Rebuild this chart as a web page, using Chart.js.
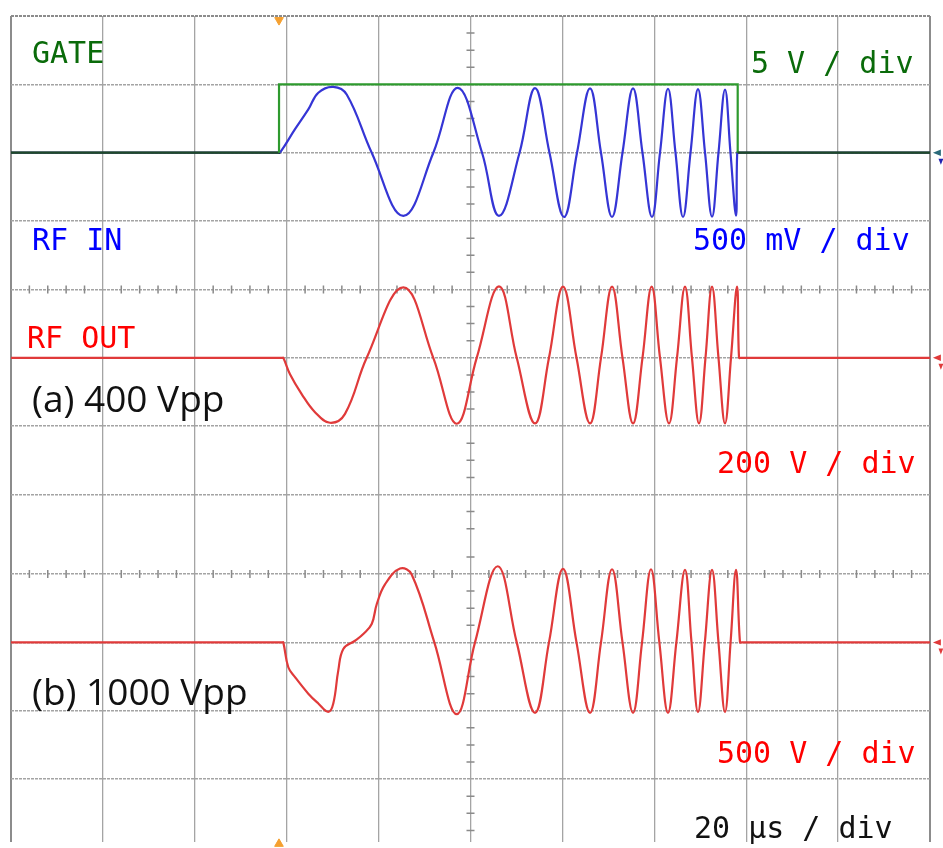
<!DOCTYPE html>
<html>
<head>
<meta charset="utf-8">
<script src="https://cdn.jsdelivr.net/npm/chart.js@4.4.0/dist/chart.umd.min.js"></script>
<style>
  html, body { margin: 0; padding: 0; background: #fff; }
</style>
</head>
<body>
<canvas id="scopeChart" width="943" height="848"></canvas>
<script>
// Time axis in µs (20 µs / div, 10 divisions)
const timeTicks = [0, 20, 40, 60, 80, 100, 120, 140, 160, 180, 200];
// Horizontal grid lines in screen divisions from the top (lower capture is stitched with an offset)
const gridDivs = [0, 1, 2, 3, 4, 5, 6, 7, 8.163, 9.163, 10.163, 11.163];

// Channel baselines (screen div) and scale (units per div)
const chanBase = { gate: 2, rfIn: 2, outA: 5, outB: 9.163 };
const perDiv = { gate: 5, rfIn: 500, outA: 200, outB: 500 };
const trigTime = 58.33;
const levelTime = 201.5;   // channel markers just right of the screen

// GATE, volts
const gateTime  = [0, 58.33, 58.33, 158.15, 158.15, 200];
const gateVolts = [0, 0, 5, 5, 0, 0];

// RF IN, mV (peaks, troughs and zero crossings)
const rfInTime = [0, 58.2, 58.54, 61.81, 64.70, 66.88, 70.14, 73.06, 78.50, 85.38,
  91.91, 97.21, 102.51, 106.20, 110.67, 114.04, 117.19, 120.35, 123.18, 126.01,
  128.40, 130.80, 133.08, 135.37, 137.43, 139.50, 141.24, 142.98, 144.61, 146.25,
  147.88, 149.51, 151.04, 152.56, 153.97, 155.39, 156.58, 157.78, 158.05, 158.45, 200];
const rfInMv = [0, 0, 0, 172, 317, 439, 482, 426, 0, -462,
  0, 475, 0, -462, 0, 472, 0, -470, 0, 470,
  0, -470, 0, 470, 0, -470, 0, 468, 0, -470,
  0, 465, 0, -468, 0, 462, 0, -460, 0, 0, 0];

// RF OUT (a) 400 Vpp, volts
const outATime = [0, 59.0, 59.26, 60.72, 63.26, 66.16, 69.42, 72.69, 77.41, 85.38,
  91.90, 97.00, 101.35, 106.20, 110.06, 114.04, 117.08, 120.13, 123.07, 126.01,
  128.40, 130.80, 133.08, 135.37, 137.43, 139.43, 141.24, 143.20, 144.94, 146.68,
  148.20, 149.73, 151.14, 152.56, 153.97, 155.39, 156.69, 158.00, 158.44, 158.85, 200];
const outAVolts = [0, 0, 0, -48, -106, -159, -190, -164, 0, 206,
  0, -193, 0, 209, 0, -192, 0, 208, 0, -192,
  0, 208, 0, -192, 0, 208, 0, -192, 0, 208,
  0, -192, 0, 208, 0, -192, 0, 208, 0, 0, 0];

// RF OUT (b) 1000 Vpp, volts
const outBTime = [0, 59.0, 59.26, 60.35, 61.81, 64.70, 66.88, 69.05, 70.14, 71.23,
  72.32, 74.87, 76.67, 78.50, 79.59, 81.39, 84.66, 87.20, 92.13, 97.00,
  100.98, 105.92, 110.06, 114.04, 117.08, 120.13, 123.07, 126.01, 128.40, 130.80,
  133.08, 135.37, 137.33, 139.28, 141.1, 142.98, 144.8, 146.68, 148.1, 149.51,
  151.0, 152.56, 153.97, 155.39, 156.6, 157.78, 158.65, 159.05, 200];
const outBVolts = [0, 0, 0, -182, -254, -375, -447, -508, -447, -205,
  -48, 12, 61, 134, 279, 424, 540, 497, 0, -525,
  0, 557, 0, -515, 0, 537, 0, -515, 0, 535,
  0, -515, 0, 535, 0, -515, 0, 530, 0, -510,
  0, 530, 0, -510, 0, 530, 0, 0, 0];

// convert a trace to screen divisions (positive up)
function toScreen(times, vals, base, scale) {
    return times.map((t, i) => ({ x: t, y: base - vals[i] / scale }));
}

// flat baseline segments drawn darker, like the overlapping scope traces
function flatColor(base, dark) {
    return ctx => (ctx.p0.parsed.y === base && ctx.p1.parsed.y === base) ? dark : undefined;
}

const MONO = '"DejaVu Sans Mono", "Liberation Mono", monospace';
const SANS = '"Open Sans", "Liberation Sans", sans-serif';

const labels = [
    { text: 'GATE', x: 32, y: 63, color: '#0a6b0a', font: '30px ' + MONO },
    { text: '5 V / div', x: 751, y: 73, color: '#0a6b0a', font: '30px ' + MONO },
    { text: 'RF IN', x: 32, y: 250, color: '#0000ff', font: '30px ' + MONO },
    { text: '500 mV / div', x: 693, y: 250, color: '#0000ff', font: '30px ' + MONO },
    { text: 'RF OUT', x: 27, y: 348, color: '#ff0000', font: '30px ' + MONO },
    { text: '(a) 400 Vpp', x: 32, y: 412, color: '#111111', font: '37px ' + SANS },
    { text: '200 V / div', x: 717, y: 473, color: '#ff0000', font: '30px ' + MONO },
    { text: '(b) 1000 Vpp', x: 32, y: 705, color: '#111111', font: '37px ' + SANS },
    { text: '500 V / div', x: 717, y: 763, color: '#ff0000', font: '30px ' + MONO },
    { text: '20 µs / div', x: 694, y: 838, color: '#111111', font: '30px ' + MONO }
];

// small filled triangle; dir: 'left' or 'down'
function triangle(ctx, px, py, r, dir, color) {
    ctx.fillStyle = color;
    ctx.beginPath();
    if (dir === 'left') {
        ctx.moveTo(px - r, py); ctx.lineTo(px + r, py - r * 0.8); ctx.lineTo(px + r, py + r * 0.8);
    } else {
        ctx.moveTo(px, py + r); ctx.lineTo(px - r * 0.8, py - r); ctx.lineTo(px + r * 0.8, py - r);
    }
    ctx.closePath();
    ctx.fill();
}

// minor tick marks on the centre lines, channel markers, text labels
const scopeDecor = {
    id: 'scopeDecor',
    beforeDatasetsDraw(chart) {
        const { ctx, scales: { x, y } } = chart;
        ctx.save();
        ctx.strokeStyle = '#8a8a8a';
        ctx.lineWidth = 1.5;
        ctx.beginPath();
        // vertical centre line, 4 sub-divisions
        const cx = x.getPixelForValue(100);
        const vTicks = [];
        for (let d = 0.25; d < 7.7; d += 0.25) vTicks.push(d);
        for (let d = chanBase.outB - 1.25; d < y.max; d += 0.25) vTicks.push(d);
        vTicks.forEach(d => {
            if (gridDivs.some(g => Math.abs(g - d) < 0.01)) return;
            const py = y.getPixelForValue(d);
            ctx.moveTo(cx - 4, py); ctx.lineTo(cx + 4, py);
        });
        // horizontal centre lines, 5 sub-divisions
        [4, chanBase.outB - 1].forEach(d => {
            const py = y.getPixelForValue(d);
            for (let t = 4; t < 200; t += 4) {
                if (t % 20 === 0) continue;
                const px = x.getPixelForValue(t);
                ctx.moveTo(px, py - 4); ctx.lineTo(px, py + 4);
            }
        });
        ctx.stroke();
        ctx.restore();
    },
    afterDatasetsDraw(chart) {
        const { ctx, scales: { x, y } } = chart;
        ctx.save();
        const px = x.getPixelForValue(levelTime);
        [[chanBase.rfIn, '#2a6a7a', '#2020b0'], [chanBase.outA, '#e03a3a', '#e03a3a'], [chanBase.outB, '#e03a3a', '#e03a3a']]
            .forEach(([base, c1, c2]) => {
                const py = y.getPixelForValue(base);
                triangle(ctx, px, py, 4, 'left', c1);
                triangle(ctx, px + 4, py + 9, 3, 'down', c2);
            });
        ctx.restore();
    },
    afterDraw(chart) {
        const ctx = chart.ctx;
        ctx.save();
        ctx.textBaseline = 'alphabetic';
        ctx.textAlign = 'left';
        labels.forEach(l => {
            ctx.font = l.font;
            ctx.fillStyle = l.color;
            ctx.fillText(l.text, l.x, l.y);
        });
        ctx.restore();
    }
};

function createChart() {
    const ctx = document.getElementById('scopeChart').getContext('2d');
    const trace = { pointRadius: 0, borderWidth: 2.2, tension: 0.4, fill: false };

    new Chart(ctx, {
        type: 'line',
        data: {
            datasets: [{
                label: 'GATE',
                data: toScreen(gateTime, gateVolts, chanBase.gate, perDiv.gate),
                borderColor: '#2e9a2e',
                borderWidth: 2.2,
                pointRadius: 0,
                tension: 0,
                segment: { borderColor: flatColor(chanBase.gate, '#1f4a2a') }
            }, {
                label: 'RF IN',
                data: toScreen(rfInTime, rfInMv, chanBase.rfIn, perDiv.rfIn),
                borderColor: '#3535d5',
                segment: { borderColor: flatColor(chanBase.rfIn, '#1c2560') },
                ...trace
            }, {
                label: 'RF OUT (a)',
                data: toScreen(outATime, outAVolts, chanBase.outA, perDiv.outA),
                borderColor: '#e03a3a',
                ...trace
            }, {
                label: 'RF OUT (b)',
                data: toScreen(outBTime, outBVolts, chanBase.outB, perDiv.outB),
                borderColor: '#e03a3a',
                ...trace
            }, {
                // trigger markers, top and bottom
                label: 'trig',
                data: [{ x: trigTime, y: 0.06 }, { x: trigTime - 0.01, y: 12.11 }],
                showLine: false, pointStyle: 'triangle', rotation: [180, 0],
                pointRadius: 5, backgroundColor: '#f5a030', borderColor: '#f5a030', clip: false
            }]
        },
        options: {
            responsive: false,
            animation: false,
            layout: { padding: { left: 11, top: 16, right: 13, bottom: 0 } },
            plugins: {
                legend: { display: false },
                tooltip: { enabled: false }
            },
            scales: {
                x: {
                    type: 'linear',
                    min: 0,
                    max: 200,
                    afterBuildTicks: s => { s.ticks = timeTicks.map(v => ({ value: v })); },
                    ticks: { display: false },
                    grid: {
                        drawTicks: false,
                        color: c => (c.tick && (c.tick.value === 0 || c.tick.value === 200)) ? '#8c8c8c' : '#a4a4a4',
                        lineWidth: c => (c.tick && (c.tick.value === 0 || c.tick.value === 200)) ? 2 : 1.3
                    },
                    border: { display: false }
                },
                y: {
                    type: 'linear',
                    min: 0,
                    max: 12.083,
                    reverse: true,
                    afterBuildTicks: s => { s.ticks = gridDivs.map(v => ({ value: v })); },
                    ticks: { display: false },
                    grid: {
                        drawTicks: false,
                        color: c => (c.tick && c.tick.value === 0) ? '#8c8c8c' : '#a4a4a4',
                        lineWidth: c => (c.tick && c.tick.value === 0) ? 2 : 1.5
                    },
                    border: { display: false, dash: [3, 1] }
                }
            }
        },
        plugins: [scopeDecor]
    });
}

createChart();
</script>
</body>
</html>
